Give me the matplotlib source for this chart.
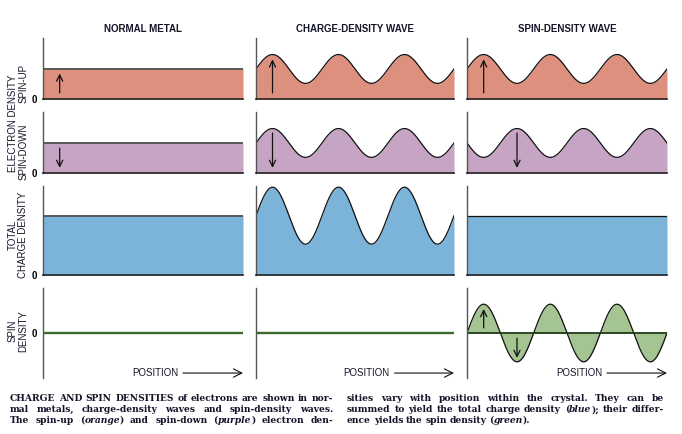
import matplotlib
matplotlib.use('Agg')
import matplotlib.pyplot as plt
import numpy as np

# column headers and row labels
columns = ['NORMAL METAL', 'CHARGE-DENSITY WAVE', 'SPIN-DENSITY WAVE']
mean_density = 1.0          # average density of each spin species
up_amp = [0.0, 0.48, 0.48]  # modulation of the spin-up density per column
down_amp = [0.0, 0.48, -0.48]  # spin-down: in phase for CDW, opposite for SDW
n_periods = 3

caption_left = [
    "CHARGE AND SPIN DENSITIES of electrons are shown in nor-",
    "mal metals, charge-density waves and spin-density waves.",
    "The spin-up (*orange*) and spin-down (*purple*) electron den-",
]
caption_right = [
    "sities vary with position within the crystal. They can be",
    "summed to yield the total charge density (*blue*); their differ-",
    "ence yields the spin density (*green*).",
]

W, H = 682, 434
fig = plt.figure(figsize=(W / 100, H / 100), dpi=100)

col_px = [(43, 243), (256, 454), (467, 667)]
row_px = [(38, 99), (112, 173), (186, 275), (288, 378)]
ylims = [(0, 2.03), (0, 2.03), (0, 3.0), (-1.5, 1.5)]
fills = ['#de907f', '#c6a5c4', '#7bb4d8', '#a4c492']
sans = 'Liberation Sans'
ink = '#15152a'

x = np.linspace(0, n_periods, 600)
wave = np.sin(2 * np.pi * x)


def add_axes(c, r):
    x0, x1 = col_px[c]
    y0, y1 = row_px[r]
    ax = fig.add_axes([x0 / W, 1 - y1 / H, (x1 - x0) / W, (y1 - y0) / H])
    ax.set_xlim(0, n_periods)
    ax.set_ylim(*ylims[r])
    ax.patch.set_alpha(0)
    for s in ['top', 'right']:
        ax.spines[s].set_visible(False)
    ax.spines['left'].set_color('#555555')
    ax.spines['left'].set_linewidth(1.0)
    ax.spines['bottom'].set_color('#222222')
    ax.spines['bottom'].set_linewidth(1.2)
    if r == 3:
        ax.spines['bottom'].set_visible(False)
    ax.set_xticks([])
    if c == 0:
        ax.set_yticks([0])
        ax.set_yticklabels(['0'], fontsize=7, fontweight='bold', family=sans)
        ax.tick_params(axis='y', length=0, pad=4)
    else:
        ax.set_yticks([])
    return ax


def arrow(ax, xpos, ya, yb):
    ax.annotate('', xy=(xpos, yb), xytext=(xpos, ya),
                arrowprops=dict(arrowstyle='->,head_length=0.45,head_width=0.22',
                                lw=0.9, color='#111111', shrinkA=0, shrinkB=0))


for c in range(3):
    up = mean_density + up_amp[c] * wave
    down = mean_density + down_amp[c] * wave
    total = up + down
    spin = up - down
    if c == 0:
        lc, lw = '#4d4d4d', 1.3
    else:
        lc, lw = '#111111', 0.9

    for r, y in enumerate([up, down, total]):
        ax = add_axes(c, r)
        ax.fill_between(x, 0, y, color=fills[r], lw=0)
        ax.plot(x, y, color=lc, lw=lw)
        if r == 0:
            if c == 0:
                arrow(ax, 0.25, 0.2, 0.85)
            else:
                arrow(ax, 0.25, 0.2, 1.32)
        elif r == 1:
            if c == 0:
                arrow(ax, 0.25, 0.83, 0.17)
            elif c == 1:
                arrow(ax, 0.25, 1.33, 0.17)
            else:
                arrow(ax, 0.75, 1.33, 0.17)

    ax = add_axes(c, 3)
    ax.fill_between(x, 0, spin, color=fills[3], lw=0)
    if c == 2:
        ax.plot(x, spin, color='#111111', lw=0.9)
        ax.axhline(0, color='#1f3a14', lw=1.3)
        arrow(ax, 0.25, 0.17, 0.8)
        arrow(ax, 0.75, -0.17, -0.83)
    else:
        ax.axhline(0, color='#3b6b2b', lw=1.7)
    ax.text(0.675, 0.055, 'POSITION', transform=ax.transAxes, ha='right', va='center',
            fontsize=7, family=sans, color=ink)
    ax.annotate('', xy=(1.0, 0.055), xytext=(0.70, 0.055), xycoords='axes fraction',
                arrowprops=dict(arrowstyle='->,head_length=0.6,head_width=0.3',
                                lw=0.8, color='#111111', shrinkA=0, shrinkB=0))

    cx = (col_px[c][0] + col_px[c][1]) / 2
    fig.text(cx / W, 1 - 29 / H, columns[c], ha='center', va='center',
             fontsize=7, fontweight='bold', family=sans, color=ink)

# row labels
lab = dict(fontsize=7, family=sans, color=ink, rotation=90)
fig.text(13 / W, 1 - 123 / H, 'ELECTRON DENSITY', ha='center', va='center', **lab)
fig.text(24 / W, 1 - 103 / H, 'SPIN-UP', ha='center', va='bottom', **lab)
fig.text(24 / W, 1 - 180 / H, 'SPIN-DOWN', ha='center', va='bottom', **lab)
fig.text(18 / W, 1 - 235 / H, 'TOTAL\nCHARGE DENSITY', ha='center', va='center',
         multialignment='center', linespacing=1.1, **lab)
fig.text(18 / W, 1 - 331 / H, 'SPIN\nDENSITY', ha='center', va='center',
         multialignment='center', linespacing=1.1, **lab)

# caption, justified in two columns
renderer = fig.canvas.get_renderer()
cap_font = dict(family='DejaVu Serif', fontweight='bold', fontsize=6.6, color=ink)


def draw_line(text, x0, x1, ybase, justify):
    italic = False
    words = []
    for w in text.split(' '):
        runs = []
        for i, part in enumerate(w.split('*')):
            if i > 0:
                italic = not italic
            if part:
                t = fig.text(0, 1 - ybase / H, part, va='baseline', ha='left',
                             style='italic' if italic else 'normal', **cap_font)
                runs.append((t, t.get_window_extent(renderer).width))
        words.append(runs)
    wsum = [sum(wd for _, wd in runs) for runs in words]
    if justify and len(words) > 1:
        gap = (x1 - x0 - sum(wsum)) / (len(words) - 1)
    else:
        gap = 2.8
    pos = x0
    for runs, ws in zip(words, wsum):
        p = pos
        for t, wd in runs:
            t.set_x(p / W)
            p += wd
        pos += ws + gap


baselines = [401, 412, 423]
for i, line in enumerate(caption_left):
    draw_line(line, 10, 333, baselines[i], True)
for i, line in enumerate(caption_right):
    draw_line(line, 347, 664, baselines[i], i < 2)

fig.savefig('out.png', dpi=100)
